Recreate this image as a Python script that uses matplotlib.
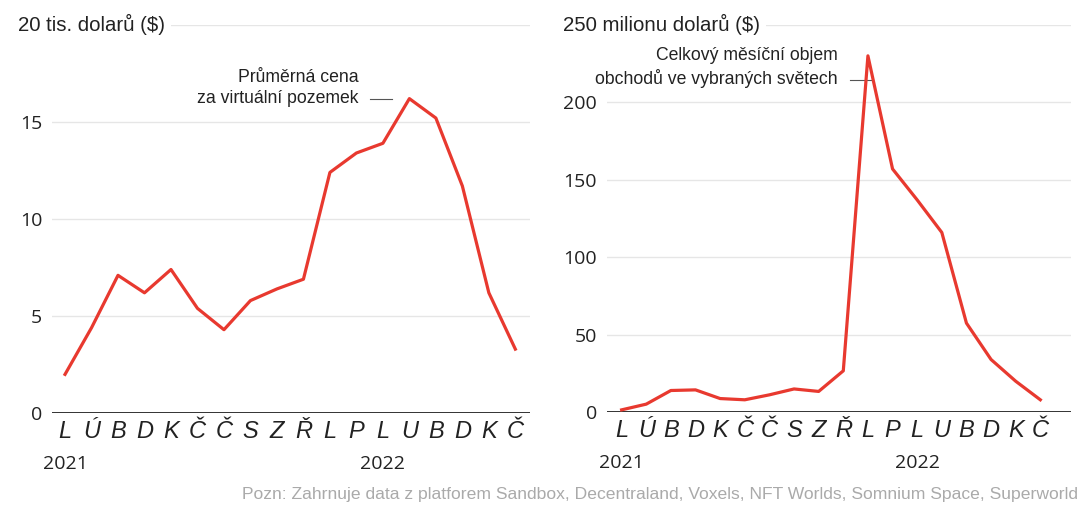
import matplotlib.pyplot as plt
import matplotlib.transforms as mtransforms

# Months (Jan 2021 - Jun 2022), Czech initials
months = ['L', 'Ú', 'B', 'D', 'K', 'Č', 'Č', 'S', 'Z', 'Ř', 'L', 'P', 'L', 'U', 'B', 'D', 'K', 'Č']
years = ['2021', '2022']
year_idx = [0, 12]

# Average price of a virtual plot (thousands of $)
avg_price = [2.0, 4.4, 7.1, 6.2, 7.4, 5.4, 4.3, 5.8, 6.4, 6.9, 12.4, 13.4, 13.9, 16.2, 15.2, 11.7, 6.2, 3.3]

# Total monthly trading volume (millions of $)
volume = [1.5, 5.2, 14.0, 14.4, 8.8, 8.0, 11.2, 15.0, 13.4, 26.7, 230, 157, 137, 116, 57.5, 34, 20, 8]

red = '#e8392f'
grid_c = '#e6e6e6'
sans = 'Liberation Sans'

fig = plt.figure(figsize=(10.91, 5.07), dpi=100)
ax1 = fig.add_axes([0.0477, 0.185, 0.4385, 0.766])
ax2 = fig.add_axes([0.556, 0.187, 0.426, 0.764])


def style(ax, yticks, ymax, title, title_x, xlim):
    x = list(range(len(months)))
    ax.set_xlim(*xlim)
    ax.set_ylim(0, ymax)
    for s in ax.spines.values():
        s.set_visible(False)
    for t in yticks + [ymax]:
        ax.axhline(t, color=grid_c, lw=1, zorder=0)
    ax.axhline(0, color='#333333', lw=1.4, zorder=1)
    ax.set_yticks(yticks)
    ax.set_yticklabels([str(t) for t in yticks], fontsize=14, family='Open Sans', color='#222222')
    ax.tick_params(axis='y', length=0, pad=7)
    ax.set_xticks(x)
    ax.set_xticklabels(months, fontsize=17, family=sans, style='italic', color='#222222')
    ax.tick_params(axis='x', length=0, pad=5)
    for yr, i in zip(years, year_idx):
        ax.annotate(yr, xy=(i, 0), xycoords=('data', 'axes fraction'), xytext=(0, -30),
                    textcoords='offset points', ha='center', va='top', fontsize=14,
                    family='Open Sans', color='#222222')
    tr = mtransforms.blended_transform_factory(fig.transFigure, ax.transData)
    ax.text(title_x / 1091, ymax, title, transform=tr, ha='left', va='center',
            fontsize=14.7, family=sans, color='#222222', clip_on=False,
            bbox=dict(facecolor='white', edgecolor='none', pad=4))


style(ax1, [0, 5, 10, 15], 20, '20 tis. dolarů ($)', 18, (-0.49, 17.57))
ax1.plot(range(len(avg_price)), avg_price, color=red, lw=2.3, zorder=3)
ax1.text(0.64, 0.838, 'Průměrná cena\nza virtuální pozemek', transform=ax1.transAxes,
         ha='right', va='center', fontsize=12.7, family=sans, color='#222222', linespacing=1.3)
ax1.plot([0.665, 0.71], [0.809, 0.809], transform=ax1.transAxes, color='#555555', lw=0.8)

style(ax2, [0, 50, 100, 150, 200], 250, '250 milionu dolarů ($)', 563, (-0.61, 18.26))
ax2.plot(range(len(volume)), volume, color=red, lw=2.3, zorder=3)
ax2.text(0.497, 0.890, 'Celkový měsíční objem\nobchodů ve vybraných světech', transform=ax2.transAxes,
         ha='right', va='center', fontsize=12.7, family=sans, color='#222222', linespacing=1.3)
ax2.plot([0.523, 0.57], [0.858, 0.858], transform=ax2.transAxes, color='#555555', lw=0.8)

fig.text(0.988, 0.025, 'Pozn: Zahrnuje data z platforem Sandbox, Decentraland, Voxels, NFT Worlds, Somnium Space, Superworld',
         ha='right', va='center', fontsize=12.6, family=sans, color='#aaaaaa')

fig.savefig('out.png', dpi=100, facecolor='white')
